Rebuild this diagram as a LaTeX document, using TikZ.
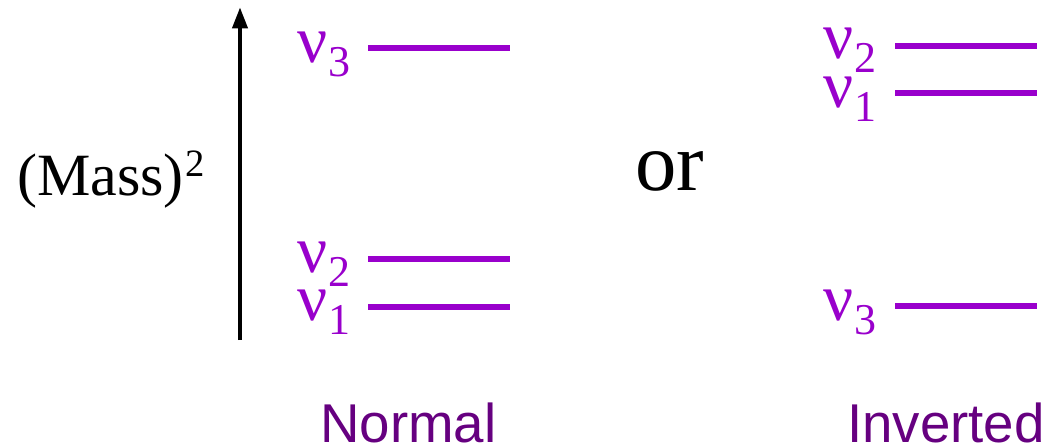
\documentclass[tikz,border=0pt]{standalone}
\usepackage{fontspec}
\setmainfont{Liberation Serif}
\setsansfont{Liberation Sans}
\usepackage{xcolor}
\usetikzlibrary{arrows.meta}
\definecolor{nupurple}{HTML}{9900CC}
\definecolor{hierpurple}{HTML}{660080}

% one neutrino label: nu with a lowered digit
\newcommand{\nulab}[1]{{\fontsize{50}{50}\selectfont ν}\kern1pt\raisebox{-10.5pt}{\fontsize{33}{33}\selectfont #1}}

\tikzset{
  level/.style={draw=nupurple, line width=4.5pt},
  nulabel/.style={anchor=base west, inner sep=0pt, text=nupurple},
  hierlabel/.style={anchor=base west, inner sep=0pt, text=hierpurple,
    font=\sffamily\fontsize{41}{41}\selectfont},
}

\begin{document}
\begin{tikzpicture}[x=0.75pt, y=-0.75pt]
    \useasboundingbox (0,0) rectangle (1051,447);

    % mass axis
    \coordinate (axbot) at (240,340);
    \coordinate (axtop) at (240,7);
    \draw[line width=3.5pt, -{Triangle[length=16pt, width=11pt]}] (axbot) -- (axtop);
    \node[anchor=base west, inner sep=0pt, font=\fontsize{45}{45}\selectfont]
      (mass) at (17,195) {(Mass)\kern1pt\raisebox{14pt}{\fontsize{29}{29}\selectfont 2}};

    % normal ordering
    \node[nulabel] (nthree) at (297,62) {\nulab{3}};
    \node[nulabel] (ntwo) at (297,272) {\nulab{2}};
    \node[nulabel] (none) at (297,320) {\nulab{1}};
    \draw[level] (368,48) -- (510,48);
    \draw[level] (368,259) -- (510,259);
    \draw[level] (368,307) -- (510,307);
    \node[hierlabel] (normal) at (320,442) {Normal};

    \node[anchor=base west, inner sep=0pt, font=\fontsize{62}{62}\selectfont]
      (or) at (635,190) {or};

    % inverted ordering
    \node[nulabel] (itwo) at (823,58) {\nulab{2}};
    \node[nulabel] (ione) at (823,107) {\nulab{1}};
    \node[nulabel] (ithree) at (823,320) {\nulab{3}};
    \draw[level] (895,46) -- (1037,46);
    \draw[level] (895,93) -- (1037,93);
    \draw[level] (895,306) -- (1037,306);
    \node[hierlabel] (inverted) at (847,442) {Inverted};
  \end{tikzpicture}
\end{document}
